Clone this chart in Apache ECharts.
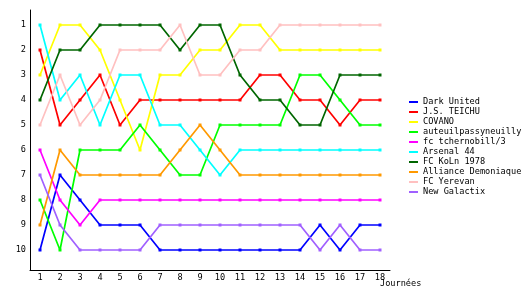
<!DOCTYPE html>
<html>
<head>
<meta charset="utf-8">
<script src="https://cdn.jsdelivr.net/npm/echarts@6/dist/echarts.min.js"></script>
<style>html,body{margin:0;padding:0;background:#fff;}#c{width:530px;height:300px;}</style>
</head>
<body>
<div id="c"></div>
<script>
var journees = [1,2,3,4,5,6,7,8,9,10,11,12,13,14,15,16,17,18];
var rankTicks = [1,2,3,4,5,6,7,8,9,10];
var xAxisTitle = 'Journées';
var teams = ["Dark United","J.S. TEICHU","COVANO","auteuilpassyneuilly","fc tchernobill/3","Arsenal 44","FC KoLn 1978","Alliance Demoniaque","FC Yerevan","New Galactix"];
var colors = ["#0000ff","#ff0000","#ffff00","#00ff00","#ff00ff","#00ffff","#006600","#ff9900","#ffc0c0","#a060ff"];

var darkUnited   = [10,7,8,9,9,9,10,10,10,10,10,10,10,10,9,10,9,9];
var jsTeichu     = [2,5,4,3,5,4,4,4,4,4,4,3,3,4,4,5,4,4];
var covano       = [3,1,1,2,4,6,3,3,2,2,1,1,2,2,2,2,2,2];
var auteuil      = [8,10,6,6,6,5,6,7,7,5,5,5,5,3,3,4,5,5];
var tchernobill  = [6,8,9,8,8,8,8,8,8,8,8,8,8,8,8,8,8,8];
var arsenal44    = [1,4,3,5,3,3,5,5,6,7,6,6,6,6,6,6,6,6];
var fcKoln       = [4,2,2,1,1,1,1,2,1,1,3,4,4,5,5,3,3,3];
var alliance     = [9,6,7,7,7,7,7,6,5,6,7,7,7,7,7,7,7,7];
var yerevan      = [5,3,5,4,2,2,2,1,3,3,2,2,1,1,1,1,1,1];
var newGalactix  = [7,9,10,10,10,10,9,9,9,9,9,9,9,9,10,9,10,10];

var allValues = [darkUnited,jsTeichu,covano,auteuil,tchernobill,arsenal44,fcKoln,alliance,yerevan,newGalactix];

var FONT = "DejaVu Sans Mono";
var FS = 8.6;
var chart = echarts.init(document.getElementById('c'), null, {renderer:'canvas'});
var series = teams.map(function(name, i){
  return {
    name: name,
    type: 'line',
    data: journees.map(function(j, k){ return [j, allValues[i][k]]; }),
    symbol: 'rect',
    symbolSize: 3,
    showSymbol: true,
    animation: false,
    lineStyle: {color: colors[i], width: 1.7},
    itemStyle: {color: colors[i]},
    emphasis: {disabled: true}
  };
});
chart.setOption({
  animation: false,
  backgroundColor: '#ffffff',
  textStyle: {fontFamily: FONT},
  grid: {left: 30, top: 10, width: 360, height: 260, containLabel: false},
  xAxis: {
    type: 'value', min: 0.5, max: 18.5,
    axisLine: {show: true, onZero: false, lineStyle: {color: '#000', width: 1}},
    axisTick: {show: false},
    splitLine: {show: false},
    axisLabel: {customValues: journees, fontFamily: FONT, fontSize: FS, color: '#000', margin: 3}
  },
  yAxis: {
    type: 'value', inverse: true, min: 0.4, max: 10.8,
    axisLine: {show: true, onZero: false, lineStyle: {color: '#000', width: 1}},
    axisTick: {show: false},
    splitLine: {show: false},
    axisLabel: {customValues: rankTicks, fontFamily: FONT, fontSize: FS, color: '#000', margin: 4}
  },
  graphic: [{
    type: 'text', left: 380, top: 279, silent: true,
    style: {text: xAxisTitle, font: FS + 'px "' + FONT + '"', fill: '#000'}
  }],
  legend: {
    orient: 'vertical', left: 409, top: 97,
    itemWidth: 9, itemHeight: 2, itemGap: 0,
    icon: 'rect',
    padding: 0,
    selectedMode: false,
    textStyle: {fontFamily: FONT, fontSize: FS, color: '#000', lineHeight: 10, height: 10},
    data: teams
  },
  series: series
});
</script>
</body>
</html>
